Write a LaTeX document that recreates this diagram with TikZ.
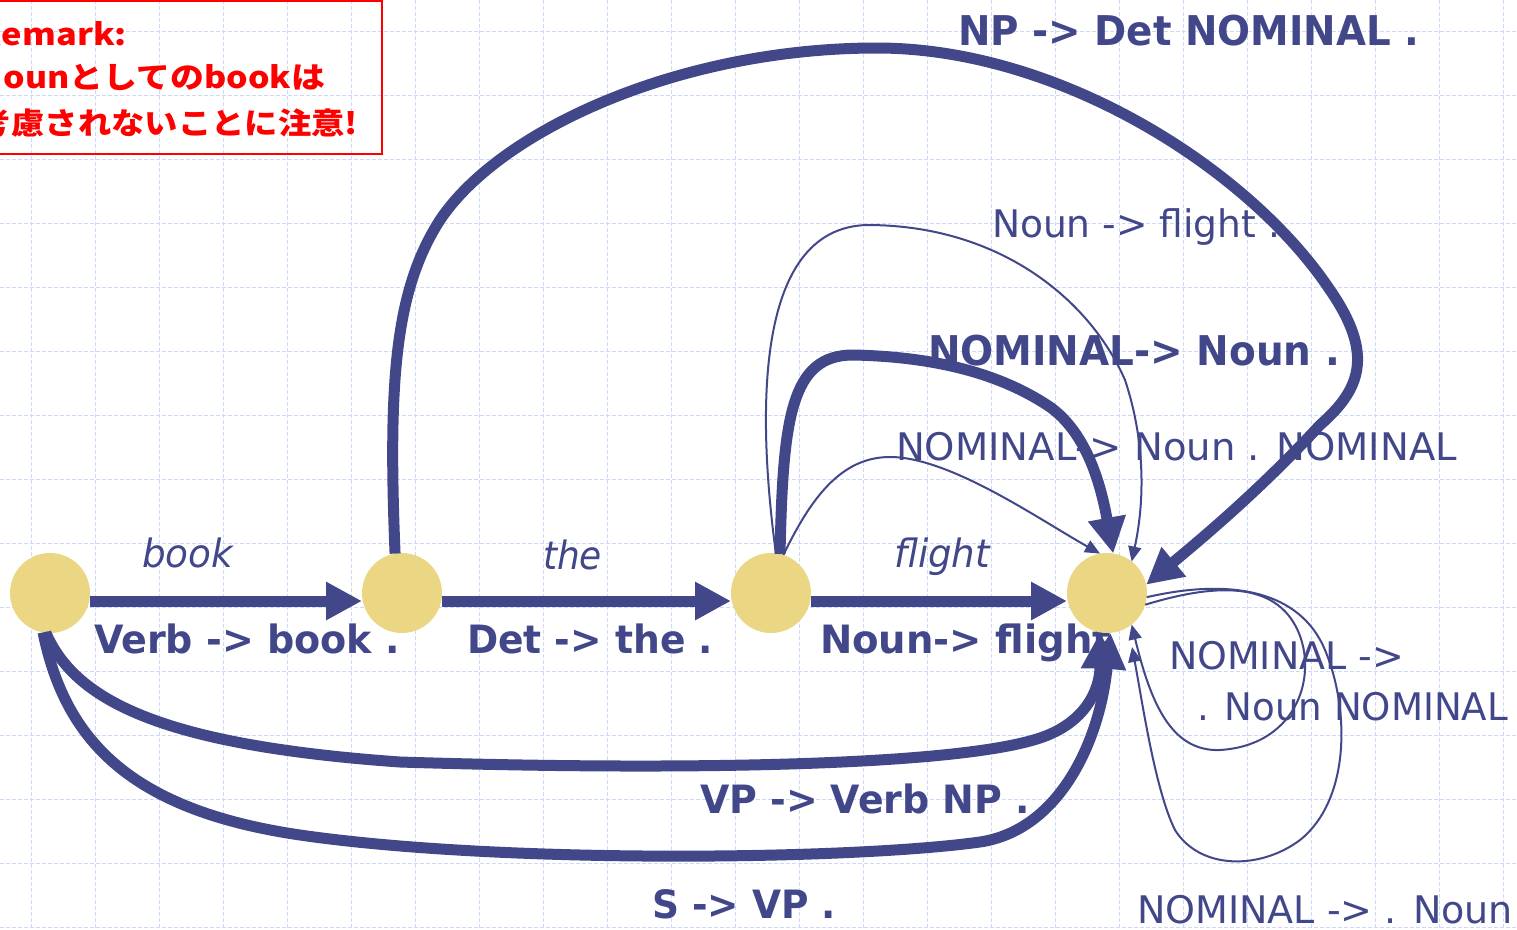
\documentclass[tikz,border=0pt]{standalone}
\usepackage{fontspec}
\usepackage{graphicx}
\usetikzlibrary{arrows.meta}
\newfontfamily\lblfont{DejaVu Sans}
\newfontfamily\jpfont{Noto Sans CJK JP}
\definecolor{edgec}{RGB}{65,71,137}
\definecolor{nodefill}{RGB}{235,214,132}
\definecolor{gridc}{RGB}{204,216,252}
\definecolor{remred}{RGB}{255,0,0}
\newsavebox\fitbox
\newcommand\fitw[2]{\sbox\fitbox{#2}\pgfmathsetmacro\fitsx{#1/\the\wd\fitbox}\scalebox{\fitsx}[1]{\usebox\fitbox}}
\tikzset{
  gridline/.style={draw=gridc, line width=1pt, dash pattern=on 4pt off 2pt},
  lbl/.style={anchor=base west, inner sep=0pt, outer sep=0pt, text=edgec},
  bl/.style={lbl, font={\lblfont\bfseries\fontsize{39pt}{39pt}\selectfont}},
  blL/.style={lbl, font={\lblfont\bfseries\fontsize{41pt}{41pt}\selectfont}},
  rl/.style={lbl, font={\lblfont\fontsize{38pt}{38pt}\selectfont}},
  il/.style={lbl, font={\lblfont\itshape\fontsize{39pt}{39pt}\selectfont}},
  redl/.style={anchor=base west, inner sep=0pt, outer sep=0pt, text=remred, font={\jpfont\bfseries\fontsize{30pt}{30pt}\selectfont}},
  state/.style={circle, fill=nodefill, minimum size=80pt, inner sep=0pt, outer sep=0pt},
  thickarr/.style={draw=edgec, line width=11pt, -{Triangle[length=36pt,width=36pt]}},
  thinarr/.style={draw=edgec, line width=2pt, -{Triangle[length=15pt,width=13pt]}}
}
\begin{document}
\begin{tikzpicture}[x=1pt,y=-1pt]
\path[use as bounding box] (0,0) rectangle (1517,929);
\clip (0,0) rectangle (1517,929);
\fill[white] (0,0) rectangle (1517,929);
% grid
\foreach \i in {0,...,23} \draw[gridline] (31+64*\i,0) -- (31+64*\i,929);
\foreach \j in {0,...,14} \draw[gridline] (0,31+64*\j) -- (1517,31+64*\j);
% remark box
\draw[remred, line width=2pt] (-10,1) rectangle (382,154);
\node[redl] (r1) at (-22,45) {\fitw{149}{Remark:}};
\node[redl] (r2) at (-22,88) {\fitw{347}{Nounとしてのbookは}};
\node[redl] (r3) at (-22,134) {\fitw{380}{考慮されないことに注意!}};
% labels
\node[il] (lbook) at (142,567) {\fitw{91}{book}};
\node[il] (lthe) at (543,569) {\fitw{59}{the}};
\node[il] (lflight) at (894,567) {\fitw{96}{flight}};
\node[bl] (lVerb) at (94,653) {\fitw{306}{Verb -> book .}};
\node[bl] (lDet) at (467,653) {\fitw{246}{Det -> the .}};
\node[bl] (lNounF) at (820,653) {\fitw{291}{Noun-> flight}};
\node[bl] (lVP) at (700,813) {\fitw{330}{VP -> Verb NP .}};
\node[bl] (lS) at (652,918) {\fitw{184}{S -> VP .}};
\node[blL] (lNP) at (958,45) {\fitw{461}{NP -> Det NOMINAL .}};
\node[blL] (lNomNoun) at (928,365) {\fitw{412}{NOMINAL-> Noun .}};
\node[rl] (lNounFl) at (992,237) {\fitw{288}{Noun -> flight .}};
\node[rl] (lNNN) at (896,460) {\fitw{561}{NOMINAL-> Noun . NOMINAL}};
\node[rl] (lNA) at (1169,669) {\fitw{235}{NOMINAL ->}};
\node[rl] (lNB) at (1197,720) {\fitw{311}{. Noun NOMINAL}};
\node[rl] (lNC) at (1137,923) {\fitw{376}{NOMINAL -> . Noun}};
% states
\node[state] (n0) at (50,593) {};
\node[state] (n1) at (402,593) {};
\node[state] (n2) at (771,593) {};
\node[state] (n3) at (1107,593) {};
\coordinate (n3low) at (1132,647);
% straight edges
\draw[thickarr] ([yshift=-8pt]n0.east) -- ([yshift=-8pt]n1.west);
\draw[thickarr] ([yshift=-8pt]n1.east) -- ([yshift=-8pt]n2.west);
\draw[thickarr] ([yshift=-8pt]n2.east) -- ([yshift=-8pt]n3.west);
% NP -> Det NOMINAL .
\draw[thickarr] (n1.100) .. controls (388,380) and (395,290) .. (440,220)
  .. controls (500,130) and (680,48) .. (877,48)
  .. controls (1060,48) and (1250,170) .. (1330,290)
  .. controls (1375,355) and (1360,390) .. (1320,425)
  .. controls (1260,490) and (1200,540) .. (n3.12);
% NOMINAL -> Noun .
\draw[thickarr] (n2.77) .. controls (783,420) and (790,355) .. (853,355)
  .. controls (950,357) and (1010,380) .. (1050,407)
  .. controls (1085,432) and (1100,480) .. (n3.81);
% Noun -> flight .
\draw[thinarr] (n2.83) .. controls (758,420) and (752,228) .. (867,225)
  .. controls (1000,225) and (1090,300) .. (1125,380)
  .. controls (1145,440) and (1145,500) .. (n3.52);
% NOMINAL -> Noun . NOMINAL
\draw[thinarr] (n2.72) .. controls (810,500) and (840,457) .. (890,457)
  .. controls (950,457) and (1040,520) .. (n3.100);
% self loops
\draw[thinarr] (n3.343) .. controls (1210,585) and (1270,580) .. (1295,625)
  .. controls (1320,670) and (1300,745) .. (1220,750)
  .. controls (1170,752) and (1150,700) .. (n3.308);
\draw[thinarr] (n3.354) .. controls (1230,578) and (1300,590) .. (1325,650)
  .. controls (1350,710) and (1350,800) .. (1300,840)
  .. controls (1260,870) and (1200,870) .. (1175,830)
  .. controls (1155,790) and (1142,700) .. (n3low);
% VP -> Verb NP .
\draw[thickarr] (n0.264) .. controls (75,700) and (160,745) .. (400,762)
  .. controls (650,770) and (950,768) .. (1040,738)
  .. controls (1085,723) and (1100,690) .. (n3.260);
% S -> VP .
\draw[thickarr] (n0.260) .. controls (65,740) and (130,810) .. (300,835)
  .. controls (500,864) and (850,860) .. (980,842)
  .. controls (1060,830) and (1100,740) .. (n3.275);
\end{tikzpicture}
\end{document}
